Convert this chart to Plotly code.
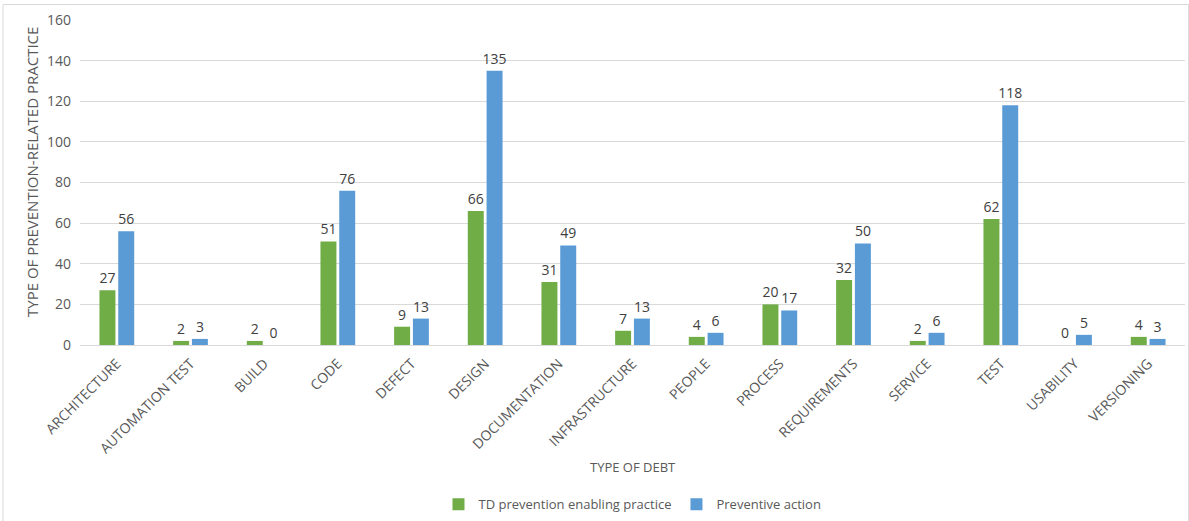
import plotly.graph_objects as go

categories = ["ARCHITECTURE", "AUTOMATION TEST", "BUILD", "CODE", "DEFECT", "DESIGN",
              "DOCUMENTATION", "INFRASTRUCTURE", "PEOPLE", "PROCESS", "REQUIREMENTS",
              "SERVICE", "TEST", "USABILITY", "VERSIONING"]
enabling = [27, 2, 2, 51, 9, 66, 31, 7, 4, 20, 32, 2, 62, 0, 4]
preventive = [56, 3, 0, 76, 13, 135, 49, 13, 6, 17, 50, 6, 118, 5, 3]
y_ticks = [0, 20, 40, 60, 80, 100, 120, 140, 160]

FONT = "Open Sans, Liberation Sans, sans-serif"
GRAY = "#595959"

fig = go.Figure()
fig.add_trace(go.Bar(x=categories, y=enabling, name="TD prevention enabling practice",
                     marker=dict(color="#70AD47", line=dict(width=0)),
                     text=enabling, textposition="outside", cliponaxis=False,
                     constraintext="none",
                     textfont=dict(size=14, color="#404040", family=FONT)))
fig.add_trace(go.Bar(x=categories, y=preventive, name="Preventive action",
                     marker=dict(color="#5B9BD5", line=dict(width=0)),
                     text=preventive, textposition="outside", cliponaxis=False,
                     constraintext="none",
                     textfont=dict(size=14, color="#404040", family=FONT)))

fig.update_layout(
    width=1189, height=521,
    margin=dict(l=80, r=4, t=20, b=176, autoexpand=False),
    paper_bgcolor="white", plot_bgcolor="white",
    barmode="group", bargap=0.49, bargroupgap=0.15,
    font=dict(family=FONT, size=13, color=GRAY),
    showlegend=True,
    legend=dict(orientation="h", x=0.5, xanchor="center", y=-0.49, yanchor="middle",
                font=dict(size=13, color=GRAY), itemwidth=30, traceorder="normal"),
    xaxis=dict(tickangle=-45, tickfont=dict(size=14, color=GRAY), showgrid=False,
               showline=True, linecolor="#D9D9D9", linewidth=1, ticks="",
               ticklabelstandoff=4, automargin=False),
    yaxis=dict(range=[0, 160], tickvals=y_ticks, tickfont=dict(size=14, color=GRAY),
               showgrid=True, gridcolor="#D9D9D9", gridwidth=1, zeroline=False,
               showline=False, ticks="", ticklabelstandoff=8, automargin=False),
    annotations=[
        dict(text="TYPE OF DEBT", xref="paper", yref="paper", x=0.5, y=-0.375,
             showarrow=False, font=dict(size=13, color=GRAY), xanchor="center", yanchor="middle"),
        dict(text="TYPE OF PREVENTION-RELATED PRACTICE", xref="paper", yref="paper",
             x=(32 - 80) / 1105, y=(345 - 172) / 325, showarrow=False, textangle=-90,
             font=dict(size=15, color=GRAY), xanchor="center", yanchor="middle"),
    ],
    shapes=[dict(type="rect", xref="paper", yref="paper",
                 x0=(3 - 80) / 1105, x1=(1188.5 - 80) / 1105,
                 y0=(345 - 530) / 325, y1=(345 - 4.5) / 325,
                 line=dict(color="#D9D9D9", width=1), layer="below")],
)

fig.write_html("out.html")
